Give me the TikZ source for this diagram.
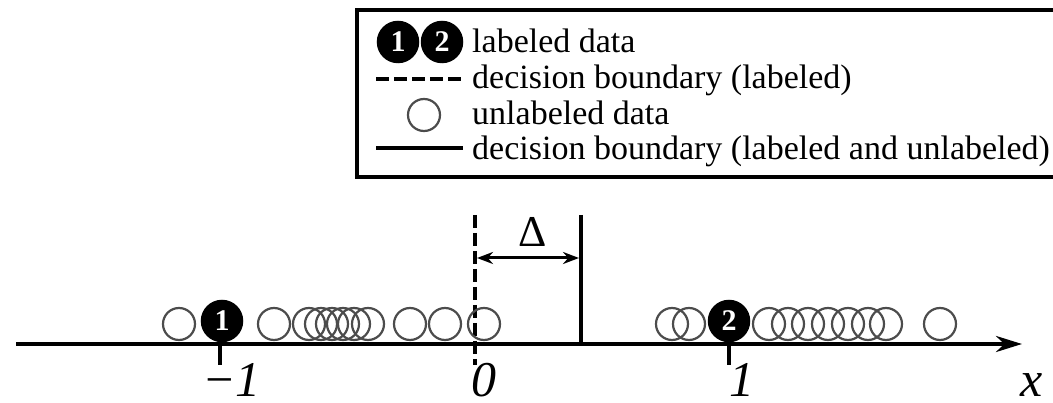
\documentclass[tikz,border=0pt]{standalone}
\usepackage{fontspec}
\setmainfont{Liberation Serif}
\usetikzlibrary{arrows.meta}
\begin{document}
\begin{tikzpicture}[x=1pt,y=-1pt,
  lab/.style={circle,fill=black,draw=black,line width=1.5pt,minimum size=41pt,inner sep=0pt,text=white,font=\fontsize{30}{30}\selectfont\bfseries},
  unl/.style={circle,draw=black!70,line width=2.2pt,minimum size=32pt,inner sep=0pt},
  legtxt/.style={anchor=base west,inner sep=0pt,font=\fontsize{34}{34}\selectfont},
  axtxt/.style={anchor=base west,inner sep=0pt,text depth=0pt,font=\fontsize{50}{50}\selectfont\itshape},
  tickline/.style={line width=4pt},
  dsh/.style={line width=4pt,dash pattern=on 13pt off 5pt}]
\useasboundingbox (0,0) rectangle (1053,403);
% legend
\draw[line width=4pt] (357,10) rectangle (1060,177);
\node[lab] (L1) at (398,42) {1};
\node[lab] (L2) at (442,42) {2};
\node[legtxt] (T1) at (472,53) {labeled data};
\coordinate (d1) at (376,79); \coordinate (d2) at (461,79);
\draw[dsh] (d1) -- (d2);
\node[legtxt] (T2) at (472,89) {decision boundary (labeled)};
\node[unl] (LU) at (424,115) {};
\node[legtxt] (T3) at (472,125) {unlabeled data};
\coordinate (s1) at (376,148); \coordinate (s2) at (463,148);
\draw[tickline] (s1) -- (s2);
\node[legtxt] (T4) at (472,160) {decision boundary (labeled and unlabeled)};
% axis
\coordinate (a0) at (16,344); \coordinate (a1) at (1022,344);
\draw[line width=4pt,-{Stealth[length=26pt,width=16pt]}] (a0) -- (a1);
% ticks
\coordinate (tm) at (220,344); \coordinate (tmb) at (220,365);
\draw[tickline] (tm) -- (tmb);
\coordinate (tp) at (729,344); \coordinate (tpb) at (729,365);
\draw[tickline] (tp) -- (tpb);
% boundaries
\coordinate (db) at (475,215); \coordinate (dbb) at (475,365);
\draw[dsh] (db) -- (dbb);
\coordinate (sb) at (581,215); \coordinate (sbb) at (581,344);
\draw[tickline] (sb) -- (sbb);
\coordinate (dl) at (477,258); \coordinate (dr) at (579,258);
\draw[line width=3pt,{Stealth[length=16pt,width=12pt]}-{Stealth[length=16pt,width=12pt]}] (dl) -- (dr);
\node[anchor=base,inner sep=0pt,font=\fontsize{44}{44}\selectfont] (D) at (533,247) {Δ};
% unlabeled data
\foreach \x [count=\i] in {179,274,309,321,332,343,354,368,410,445,484,672,689,769,788,808,828,848,868,886,940}
  \node[unl] (u\i) at (\x,324) {};
% labeled data
\node[lab] (P1) at (222,321) {1};
\node[lab] (P2) at (729,321) {2};
% axis labels
\node[axtxt] (xm) at (202,397) {\textminus1};
\node[axtxt] (x0) at (471,397) {0};
\node[axtxt] (x1) at (729,397) {1};
\node[axtxt] (xx) at (1020,397) {x};
\end{tikzpicture}
\end{document}
